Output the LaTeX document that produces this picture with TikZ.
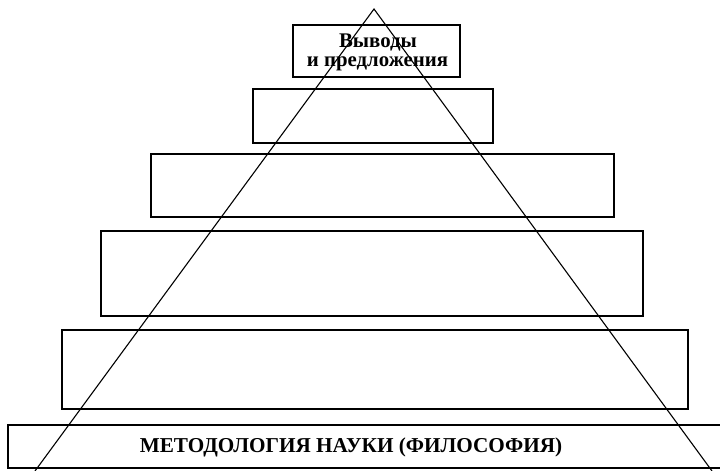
\documentclass[tikz,border=0pt]{standalone}
\usepackage{fontspec}
\setmainfont{Liberation Serif}
\begin{document}
\begin{tikzpicture}[x=1pt,y=-1pt,
  box/.style={draw=black, line width=1.4pt, fill=white, inner sep=0pt, rectangle},
  lbl/.style={inner sep=0pt, font=\fontsize{20.8}{19}\selectfont\bfseries, align=center},
  tri/.style={draw=black, line width=1.1pt}]
\useasboundingbox (0,0) rectangle (720,471);
% boxes (corners in px)
\path[box] (293,25) rectangle (460,77) node[midway] (b1) {};
\path[box] (253,89) rectangle (493,143) node[midway] (b2) {};
\path[box] (151,154) rectangle (614,217) node[midway] (b3) {};
\path[box] (101,231) rectangle (643,316) node[midway] (b4) {};
\path[box] (62,330) rectangle (688,409) node[midway] (b5) {};
\path[box] (8,425) rectangle (726,468) node[midway] (b6) {};
% labels
\node[lbl, anchor=base] (t1a) at (378,47) {Выводы};
\node[lbl, anchor=base] (t1b) at (377.5,66) {и предложения};
\node[lbl, anchor=base, font=\fontsize{21.2}{21}\selectfont\bfseries] (t6) at (351,452) {МЕТОДОЛОГИЯ НАУКИ (ФИЛОСОФИЯ)};
% triangle
\coordinate (apex) at (374,9);
\coordinate (bl) at (35,471);
\coordinate (br) at (712,471);
\draw[tri] (bl) -- (apex) -- (br);
\end{tikzpicture}
\end{document}
